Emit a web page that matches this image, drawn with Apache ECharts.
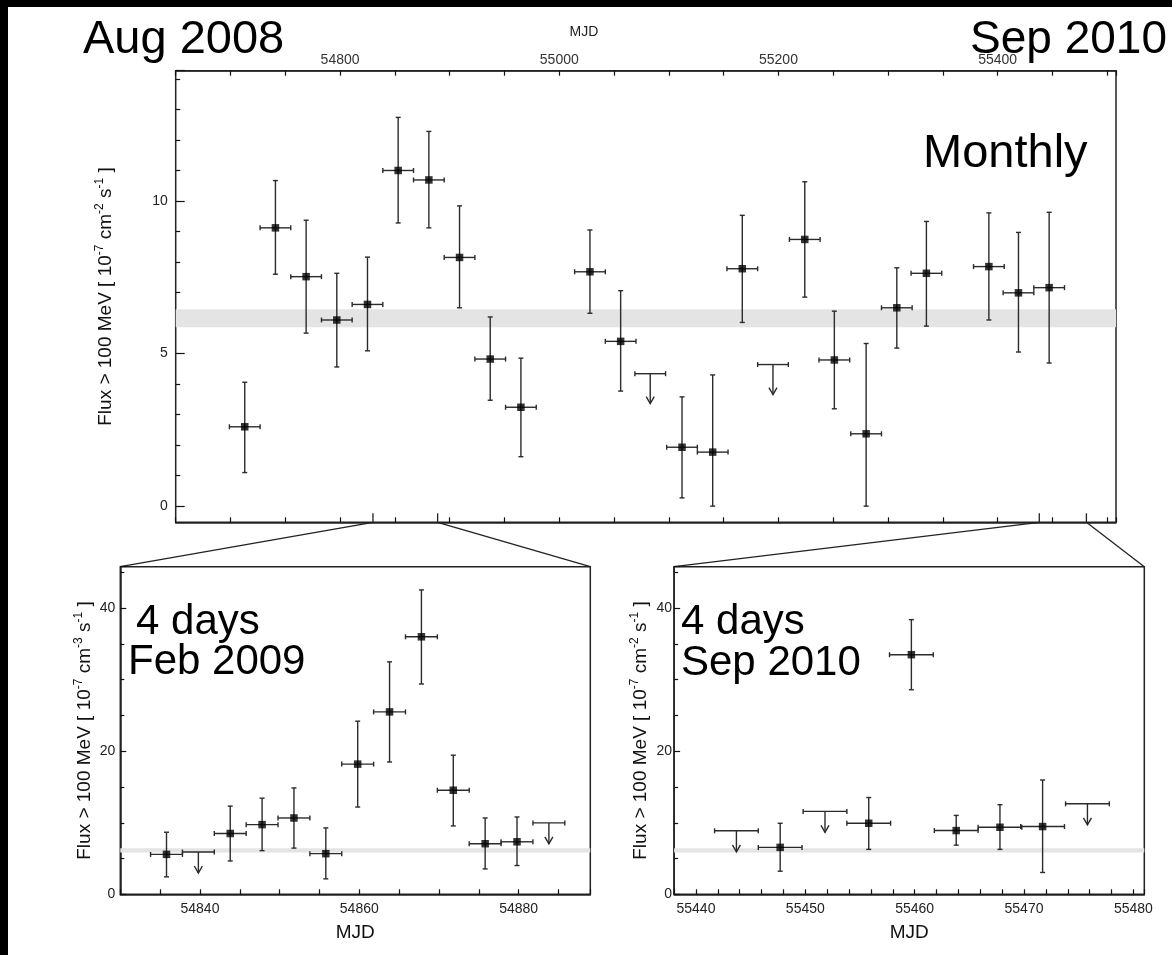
<!DOCTYPE html>
<html><head><meta charset="utf-8">
<script src="https://cdn.jsdelivr.net/npm/echarts@6/dist/echarts.min.js"></script>
<style>html,body{margin:0;padding:0;background:#fff}#c{width:1172px;height:955px}</style>
</head><body><div id="c"></div>
<script>
// ---------------- DATA ----------------
// Monthly light curve (top panel)
const monthlyMjd  = [54713, 54741, 54769, 54797, 54825, 54853, 54881, 54909, 54937, 54965, 55028, 55056, 55112, 55140, 55167, 55224, 55251, 55280, 55308, 55335, 55392, 55419, 55447];
const monthlyFlux = [2.60, 9.12, 7.52, 6.10, 6.61, 11.00, 10.69, 8.15, 4.82, 3.24, 7.68, 5.40, 1.93, 1.77, 7.78, 8.74, 4.79, 2.37, 6.50, 7.63, 7.85, 6.99, 7.16];
const monthlyLow  = [1.10, 7.60, 5.67, 4.56, 5.09, 9.28, 9.12, 6.50, 3.47, 1.62, 6.32, 3.77, 0.27, 0.00, 6.02, 6.85, 3.19, 0.00, 5.18, 5.90, 6.10, 5.05, 4.69];
const monthlyHigh = [4.06, 10.67, 9.37, 7.63, 8.16, 12.74, 12.28, 9.84, 6.20, 4.85, 9.05, 7.06, 3.58, 4.30, 9.53, 10.63, 6.39, 5.33, 7.81, 9.33, 9.61, 8.97, 9.63];
const monthlyUlMjd = [55083, 55195];
const monthlyUl    = [4.34, 4.64];
const monthlyHalfBin = 14;

// 4-day bins, Feb 2009 (bottom left)
const febMjd  = [54835.8, 54843.8, 54847.8, 54851.8, 54855.8, 54859.8, 54863.8, 54867.8, 54871.8, 54875.8, 54879.8];
const febFlux = [5.58, 8.50, 9.74, 10.67, 5.68, 18.2, 25.5, 36.0, 14.55, 7.07, 7.34];
const febLow  = [2.44, 4.66, 6.10, 6.46, 2.16, 12.2, 18.5, 29.4, 9.56, 3.55, 4.02];
const febHigh = [8.68, 12.33, 13.44, 14.87, 9.28, 24.2, 32.5, 42.55, 19.45, 10.67, 10.81];
const febUlMjd = [54839.8, 54883.8];
const febUl    = [5.91, 9.98];

// 4-day bins, Sep 2010 (bottom right)
const sepMjd  = [55447.7, 55455.8, 55459.7, 55463.8, 55467.8, 55471.7];
const sepFlux = [6.56, 9.93, 33.5, 8.91, 9.37, 9.47];
const sepLow  = [3.23, 6.28, 28.6, 6.87, 6.28, 3.05];
const sepHigh = [9.93, 13.53, 38.4, 11.03, 12.52, 15.98];
const sepUlMjd = [55443.7, 55451.8, 55475.8];
const sepUl    = [8.88, 11.59, 12.65];
const fourDayHalfBin = 2;

// steady (average) flux band
const steadyBand = [5.86, 6.45];

// axis ranges and tick labels
const topXRange = [54650, 55508];
const topYRange = [-0.53, 14.27];
const febXRange = [54830, 54889];
const sepXRange = [55438, 55481];
const zoomYRange = [0, 45.8];
const topXTickLabels = [54800, 55000, 55200, 55400];
const topYTickLabels = [0, 5, 10];
const febXTickLabels = [54840, 54860, 54880];
const sepXTickLabels = [55440, 55450, 55460, 55470, 55480];
const zoomYTickLabels = [0, 20, 40];

// ---------------- CHART ----------------
const FONT = '"Liberation Sans", Arial, Helvetica, sans-serif';
const INK = '#2b2b2b';
const chart = echarts.init(document.getElementById('c'), null, {renderer: 'canvas'});

function pick(labels) {
  return function (v) {
    for (const L of labels) if (Math.abs(v - L) < 1e-6) return String(L);
    return '';
  };
}
function det(m, f, lo, hi, hw) { return m.map((x, i) => [x, f[i], lo[i], hi[i], hw]); }
function uls(m, f, hw) { return m.map((x, i) => [x, f[i], hw]); }

const cap = 2.5;
const barStyle = {stroke: INK, lineWidth: 1.4};
function errRender(params, api) {
  const x = api.value(0), y = api.value(1), lo = api.value(2), hi = api.value(3), hw = api.value(4);
  const c = api.coord([x, y]);
  const l = api.coord([x - hw, y]);
  const r = api.coord([x + hw, y]);
  const t = api.coord([x, hi]);
  const b = api.coord([x, lo]);
  return {type: 'group', children: [
    {type: 'line', shape: {x1: l[0], y1: c[1], x2: r[0], y2: c[1]}, style: barStyle},
    {type: 'line', shape: {x1: c[0], y1: t[1], x2: c[0], y2: b[1]}, style: barStyle},
    {type: 'line', shape: {x1: l[0], y1: c[1] - cap, x2: l[0], y2: c[1] + cap}, style: barStyle},
    {type: 'line', shape: {x1: r[0], y1: c[1] - cap, x2: r[0], y2: c[1] + cap}, style: barStyle},
    {type: 'line', shape: {x1: c[0] - cap, y1: t[1], x2: c[0] + cap, y2: t[1]}, style: barStyle},
    {type: 'line', shape: {x1: c[0] - cap, y1: b[1], x2: c[0] + cap, y2: b[1]}, style: barStyle}
  ]};
}
function ulRender(arrowLen) {
  return function (params, api) {
    const x = api.value(0), y = api.value(1), hw = api.value(2);
    const c = api.coord([x, y]);
    const l = api.coord([x - hw, y]);
    const r = api.coord([x + hw, y]);
    const tip = c[1] + arrowLen;
    return {type: 'group', children: [
      {type: 'line', shape: {x1: l[0], y1: c[1], x2: r[0], y2: c[1]}, style: barStyle},
      {type: 'line', shape: {x1: l[0], y1: c[1] - cap, x2: l[0], y2: c[1] + cap}, style: barStyle},
      {type: 'line', shape: {x1: r[0], y1: c[1] - cap, x2: r[0], y2: c[1] + cap}, style: barStyle},
      {type: 'line', shape: {x1: c[0], y1: c[1], x2: c[0], y2: tip}, style: barStyle},
      {type: 'polyline', shape: {points: [[c[0] - 4, tip - 7], [c[0], tip], [c[0] + 4, tip - 7]]}, style: {stroke: INK, lineWidth: 1.4, fill: null}}
    ]};
  };
}

const yName = (cmExp) => '{a|Flux > 100 MeV [ 10}{s|-7}{a| cm}{s|' + cmExp + '}{a| s}{s|-1}{a| ]}';
const nameRich = {
  a: {fontSize: 19, fontFamily: FONT, color: '#111', lineHeight: 24, verticalAlign: 'middle'},
  s: {fontSize: 12, fontFamily: FONT, color: '#111', lineHeight: 12, verticalAlign: 'top'}
};

const grids = [
  {left: 175.7, top: 70.7, width: 940.3, height: 451.6, show: true, borderColor: '#222', borderWidth: 1.5, backgroundColor: 'transparent'},
  {left: 175.7, top: 70.7, width: 940.3, height: 435.3, show: false},
  {left: 120.3, top: 566.7, width: 470, height: 327.6, show: true, borderColor: '#222', borderWidth: 1.5, backgroundColor: 'transparent'},
  {left: 674.1, top: 566.7, width: 470.2, height: 327.6, show: true, borderColor: '#222', borderWidth: 1.5, backgroundColor: 'transparent'}
];

const axLine = {show: true, onZero: false, lineStyle: {color: '#222', width: 1.5}};
const tickStyle = {lineStyle: {color: '#111', width: 1.2}};
const labelFont = {fontSize: 14, fontFamily: FONT};
const xAxes = [
  {gridIndex: 0, type: 'value', position: 'top', min: topXRange[0], max: topXRange[1], interval: 50,
   name: 'MJD', nameLocation: 'middle', nameGap: 32,
   nameTextStyle: {fontSize: 14, fontFamily: FONT, color: '#222', padding: [0, 124, 0, 0]},
   axisLine: axLine, splitLine: {show: false},
   axisTick: Object.assign({show: true, inside: true, length: 5}, tickStyle),
   axisLabel: Object.assign({show: true, margin: 4, color: '#333', formatter: pick(topXTickLabels)}, labelFont)},
  {gridIndex: 0, type: 'value', position: 'bottom', min: topXRange[0], max: topXRange[1], interval: 50,
   axisLine: axLine, splitLine: {show: false},
   axisTick: Object.assign({show: true, inside: true, length: 5}, tickStyle),
   axisLabel: {show: false}},
  {gridIndex: 1, type: 'value', min: topXRange[0], max: topXRange[1], show: false},
  {gridIndex: 2, type: 'value', min: febXRange[0], max: febXRange[1], interval: 5,
   name: 'MJD', nameLocation: 'middle', nameGap: 29,
   nameTextStyle: {fontSize: 19, fontFamily: FONT, color: '#111'},
   axisLine: axLine, splitLine: {show: false},
   axisTick: Object.assign({show: true, inside: true, length: 5}, tickStyle),
   axisLabel: Object.assign({margin: 8, color: '#222', formatter: pick(febXTickLabels)}, labelFont)},
  {gridIndex: 3, type: 'value', min: sepXRange[0], max: sepXRange[1], interval: 2,
   name: 'MJD', nameLocation: 'middle', nameGap: 29,
   nameTextStyle: {fontSize: 19, fontFamily: FONT, color: '#111'},
   axisLine: axLine, splitLine: {show: false},
   axisTick: Object.assign({show: true, inside: true, length: 5}, tickStyle),
   axisLabel: Object.assign({margin: 8, color: '#222', formatter: pick(sepXTickLabels)}, labelFont)}
];
const yAxes = [
  {gridIndex: 0, type: 'value', min: topYRange[0], max: topYRange[1],
   name: yName('-2'), nameLocation: 'middle', nameGap: 58, nameRotate: 90,
   nameTextStyle: {rich: nameRich},
   axisLine: {show: false, onZero: false}, axisTick: {show: false}, axisLabel: {show: false}, splitLine: {show: false}},
  {gridIndex: 1, type: 'value', min: 0, max: topYRange[1], interval: 5,
   axisLine: {show: false, onZero: false}, splitLine: {show: false},
   axisTick: Object.assign({show: true, inside: true, length: 9}, tickStyle),
   minorTick: {show: true, splitNumber: 5, length: 4.5, lineStyle: {color: '#111', width: 1.2}},
   axisLabel: Object.assign({margin: 8, color: '#222', formatter: pick(topYTickLabels)}, labelFont)},
  {gridIndex: 2, type: 'value', min: zoomYRange[0], max: zoomYRange[1], interval: 20,
   name: yName('-3'), nameLocation: 'middle', nameGap: 24, nameRotate: 90,
   nameTextStyle: {rich: nameRich},
   axisLine: axLine, splitLine: {show: false},
   axisTick: Object.assign({show: true, inside: true, length: 6}, tickStyle),
   minorTick: {show: true, splitNumber: 4, length: 4, lineStyle: {color: '#111', width: 1.2}},
   axisLabel: Object.assign({margin: 5, color: '#222', formatter: pick(zoomYTickLabels)}, labelFont)},
  {gridIndex: 3, type: 'value', min: zoomYRange[0], max: zoomYRange[1], interval: 20,
   name: yName('-2'), nameLocation: 'middle', nameGap: 21, nameRotate: 90,
   nameTextStyle: {rich: nameRich},
   axisLine: axLine, splitLine: {show: false},
   axisTick: Object.assign({show: true, inside: true, length: 6}, tickStyle),
   minorTick: {show: true, splitNumber: 4, length: 4, lineStyle: {color: '#111', width: 1.2}},
   axisLabel: Object.assign({margin: 2, color: '#222', formatter: pick(zoomYTickLabels)}, labelFont)}
];

function panelSeries(xi, yi, mjd, flux, lo, hi, hw, ulM, ulF, arrowLen) {
  return [
    {type: 'line', xAxisIndex: xi, yAxisIndex: yi, data: mjd.map((x, i) => [x, flux[i]]),
     symbol: 'none', lineStyle: {opacity: 0}, silent: true, z: 1,
     markArea: {silent: true, itemStyle: {color: '#e4e4e4'},
       data: [[{yAxis: steadyBand[0]}, {yAxis: steadyBand[1]}]]}},
    {type: 'custom', xAxisIndex: xi, yAxisIndex: yi, renderItem: errRender,
     data: det(mjd, flux, lo, hi, hw), encode: {x: 0, y: 1}, z: 3, silent: true},
    {type: 'custom', xAxisIndex: xi, yAxisIndex: yi, renderItem: ulRender(arrowLen),
     data: uls(ulM, ulF, hw), encode: {x: 0, y: 1}, z: 3, silent: true},
    {type: 'scatter', xAxisIndex: xi, yAxisIndex: yi, data: mjd.map((x, i) => [x, flux[i]]),
     symbol: 'rect', symbolSize: 7.5, itemStyle: {color: '#000'}, z: 4, silent: true}
  ];
}

const series = [].concat(
  panelSeries(1, 0, monthlyMjd, monthlyFlux, monthlyLow, monthlyHigh, monthlyHalfBin, monthlyUlMjd, monthlyUl, 30),
  panelSeries(3, 2, febMjd, febFlux, febLow, febHigh, fourDayHalfBin, febUlMjd, febUl, 21),
  panelSeries(4, 3, sepMjd, sepFlux, sepLow, sepHigh, fourDayHalfBin, sepUlMjd, sepUl, 21)
);
// series on the tick-only grid (grid 1) so its axes are instantiated
series.push({type: 'line', xAxisIndex: 2, yAxisIndex: 1, data: monthlyMjd.map((x, i) => [x, monthlyFlux[i]]),
  symbol: 'none', lineStyle: {opacity: 0}, silent: true});

chart.setOption({
  animation: false,
  backgroundColor: '#fff',
  grid: grids, xAxis: xAxes, yAxis: yAxes, series: series
});

// ---------------- ANNOTATIONS ----------------
function toPx(seriesIndex, pt) { return chart.convertToPixel({seriesIndex: seriesIndex}, pt); }
const lineSty = {stroke: '#222', lineWidth: 1.3};
const conn = [];
[[0, 4, febXRange[0]], [0, 4, febXRange[1]], [0, 8, sepXRange[0]], [0, 8, sepXRange[1]]].forEach(function (d) {
  const a = toPx(d[0], [d[2], topYRange[0]]);
  const b = toPx(d[1], [d[2], zoomYRange[1]]);
  conn.push({type: 'line', shape: {x1: a[0], y1: a[1], x2: b[0], y2: b[1]}, style: lineSty, silent: true});
  conn.push({type: 'line', shape: {x1: a[0], y1: a[1], x2: a[0], y2: a[1] - 9}, style: lineSty, silent: true});
});
function bigText(txt, x, y, size, align) {
  return {type: 'text', x: x, y: y, silent: true,
    style: {text: txt, fill: '#000', font: size + 'px ' + FONT, align: align, verticalAlign: 'middle'}};
}
chart.setOption({graphic: [
  {type: 'rect', shape: {x: 0, y: 0, width: 1172, height: 7}, style: {fill: '#000'}, silent: true},
  {type: 'rect', shape: {x: 0, y: 0, width: 8, height: 955}, style: {fill: '#000'}, silent: true}
].concat(conn, [
  bigText('Aug 2008', 83, 40, 47, 'left'),
  bigText('Sep 2010', 1167, 40, 46, 'right'),
  bigText('Monthly', 923, 154, 47, 'left'),
  bigText('4 days', 136, 622, 42, 'left'),
  bigText('Feb 2009', 128, 662, 42, 'left'),
  bigText('4 days', 681, 622, 42, 'left'),
  bigText('Sep 2010', 681, 663, 42, 'left')
])});
</script>
</body></html>
